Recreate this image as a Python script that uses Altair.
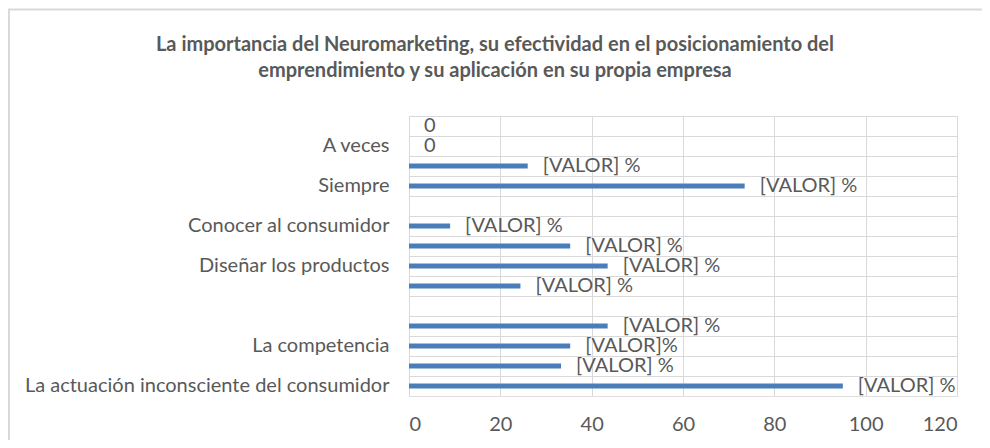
import json
import altair as alt
import pandas as pd

# rows from top to bottom
row_labels = ["", "A veces", "", "Siempre", "", "Conocer al consumidor", "",
              "Diseñar los productos", "", "", "", "La competencia", "",
              "La actuación inconsciente del consumidor"]
values = [0, 0, 26, 73.5, None, 9, 35.3, 43.5, 24.4, None, 43.5, 35.3, 33.3, 95]
value_texts = ["0", "0", "[VALOR] %", "[VALOR] %", "", "[VALOR] %", "[VALOR] %",
               "[VALOR] %", "[VALOR] %", "", "[VALOR] %", "[VALOR]%", "[VALOR] %",
               "[VALOR] %"]
x_ticks = [0, 20, 40, 60, 80, 100, 120]
title_lines = ["La importancia del Neuromarketing, su efectividad en el posicionamiento del",
               "emprendimiento y su aplicación en su propia empresa"]

rows = list(range(len(row_labels)))
df = pd.DataFrame({"row": rows, "value": values, "txt": value_texts})

FONT = "Lato"
GRAY = "#595959"
GRID = "#d9d9d9"
FS = 20

label_expr = json.dumps(row_labels, ensure_ascii=False) + "[datum.value]"

y_enc = alt.Y("row:O", scale=alt.Scale(domain=rows, paddingInner=0, paddingOuter=0),
              axis=alt.Axis(title=None, labelExpr=label_expr, ticks=False, domain=False,
                            grid=True, bandPosition=0, gridColor=GRID, gridWidth=1,
                            labelPadding=20, labelFont=FONT, labelFontSize=FS,
                            labelColor=GRAY, labelLimit=0))
x_scale = alt.Scale(domain=[0, 120], nice=False)
x_enc = alt.X("value:Q", scale=x_scale,
              axis=alt.Axis(title=None, values=x_ticks, ticks=False, domain=False,
                            grid=True, gridColor=GRID, gridWidth=1, labelPadding=18,
                            labelFont=FONT, labelFontSize=FS, labelColor=GRAY))

base = alt.Chart(df)
bars = base.mark_bar(color="#4a7ebb", size=5).encode(x=x_enc, y=y_enc)
texts = base.mark_text(align="left", baseline="middle", dx=15, font=FONT,
                       fontSize=FS, color=GRAY).encode(
    x=alt.X("value:Q", scale=x_scale), y=alt.Y("row:O"), text="txt:N")

frame = alt.Chart(pd.DataFrame({"k": [0]})).mark_rect(
    fill=None, stroke="#d9d9d9", strokeWidth=2, clip=False).encode(
    x=alt.value(-400), x2=alt.value(700), y=alt.value(-106.5), y2=alt.value(500))

chart = alt.layer(frame, bars, texts).properties(
    width=548, height=280,
    title=alt.TitleParams(title_lines, font=FONT, fontSize=FS, fontWeight="bold",
                          color=GRAY, anchor="middle", frame="group", dx=-188,
                          offset=0, dy=72, lineHeight=26),
    autosize=alt.AutoSizeParams(type="none"),
    padding={"left": 401, "top": 108, "right": 25, "bottom": 44},
).configure_view(fill="#ededed", stroke=GRID, strokeWidth=1).configure(background="white")

chart.save("out.html", embed_options={"renderer": "svg", "actions": False})
